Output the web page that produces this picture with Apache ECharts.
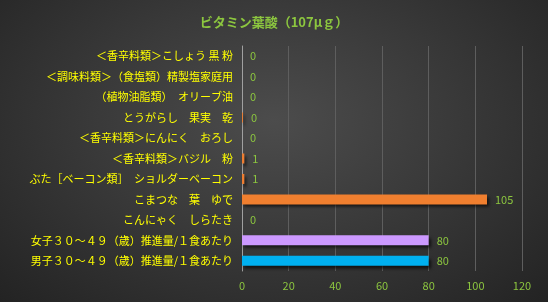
<!DOCTYPE html>
<html><head><meta charset="utf-8">
<script src="https://cdn.jsdelivr.net/npm/echarts@6/dist/echarts.min.js"></script>
<style>html,body{margin:0;padding:0;}#c{width:548px;height:302px;background:radial-gradient(ellipse at 50% 40%,#4c4c4c 0%,#3a3a3a 45%,#232323 100%);}</style>
</head><body><div id="c"></div>
<script>
const titleText = 'ビタミン葉酸（107μｇ）';
const categories = [
  '＜香辛料類＞こしょう 黒 粉',
  '＜調味料類＞（食塩類）精製塩家庭用',
  '（植物油脂類）　オリーブ油',
  'とうがらし　果実　乾',
  '＜香辛料類＞にんにく　おろし',
  '＜香辛料類＞バジル　粉',
  'ぶた［ベーコン類］　ショルダーベーコン',
  'こまつな　葉　ゆで',
  'こんにゃく　しらたき',
  '女子３０～４９（歳）推進量/１食あたり',
  '男子３０～４９（歳）推進量/１食あたり'
];
const values = [0, 0, 0, 0.4, 0, 1, 1, 105, 0, 80, 80];
const barColors = ['#ed7d31','#ed7d31','#ed7d31','#ed7d31','#ed7d31','#ed7d31','#ed7d31','#f07f2f','#ed7d31','#cc99ff','#00b0f0'];
const xTicks = [0, 20, 40, 60, 80, 100, 120];

const chart = echarts.init(document.getElementById('c'), null, {renderer:'canvas'});
chart.setOption({
  backgroundColor: 'transparent',
  textStyle: {fontFamily: '"Noto Sans CJK JP", sans-serif'},
  title: {text: titleText, left: 'center', top: 11,
    textStyle: {color: '#8cc63f', fontSize: 13, fontWeight: 'bold', fontFamily: '"Noto Sans CJK JP", sans-serif'}},
  grid: {left: 242, right: 26, top: 46, bottom: 31, containLabel: false},
  xAxis: {type: 'value', min: xTicks[0], max: xTicks[xTicks.length-1], interval: 20,
    axisLine: {show: false}, axisTick: {show: false},
    splitLine: {lineStyle: {color: '#5e5e5e', width: 1}},
    axisLabel: {color: '#8cc63f', fontSize: 11, margin: 9}},
  yAxis: {type: 'category', data: categories, inverse: true,
    axisLine: {show: true, lineStyle: {color: '#a0a0a0', width: 1}},
    axisTick: {show: false},
    axisLabel: {color: '#ffff00', fontSize: 11, margin: 9}},
  series: [{
    type: 'bar', barWidth: 10,
    data: values.map((v, i) => ({value: v, itemStyle: {color: barColors[i]}})),
    itemStyle: {shadowColor: 'rgba(0,0,0,0.65)', shadowBlur: 3, shadowOffsetX: 2, shadowOffsetY: 3},
    label: {show: true, position: 'right', distance: 8, color: '#8cc63f', fontSize: 11,
      formatter: p => String(Math.round(p.value))}
  }]
});
</script></body></html>
